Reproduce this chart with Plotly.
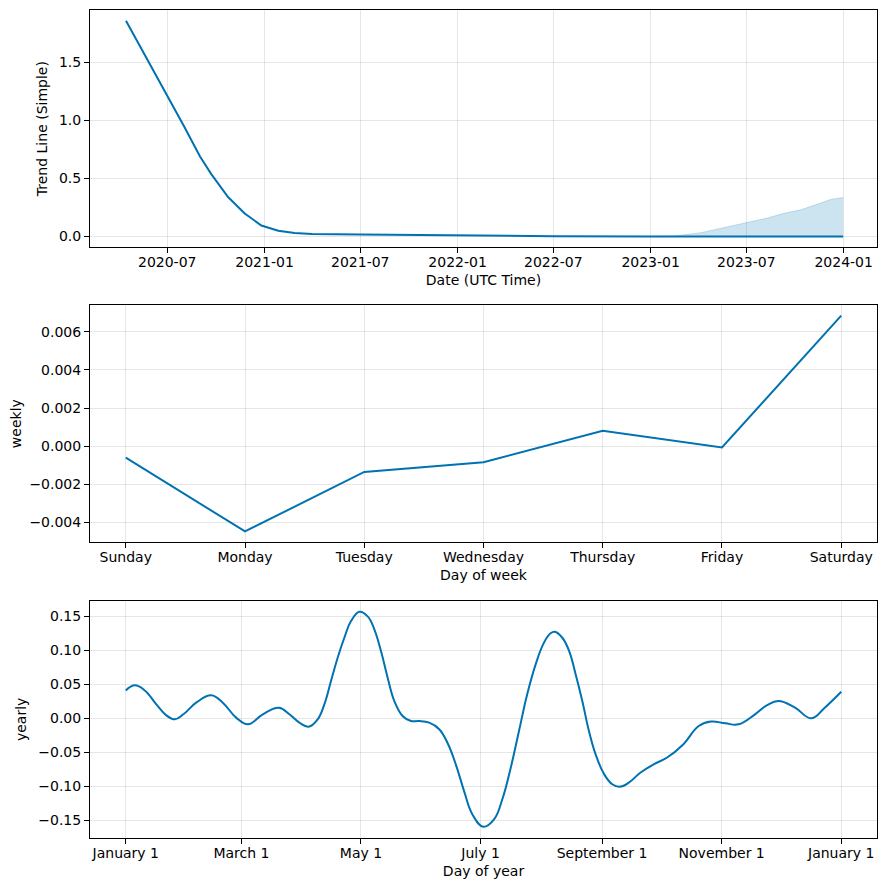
import plotly.graph_objects as go
from plotly.subplots import make_subplots

# ---- Trend panel data ----
trend_dates = ["2020-04-14", "2020-05-01", "2020-06-01", "2020-07-01", "2020-08-01",
               "2020-09-01", "2020-09-22", "2020-10-24", "2020-11-24", "2020-12-26",
               "2021-01-27", "2021-02-27", "2021-04-01", "2021-07-01", "2022-01-01",
               "2022-04-01", "2022-07-01", "2023-01-01", "2023-12-31"]
trend_values = [1.86, 1.72, 1.463, 1.215, 0.958, 0.69, 0.54, 0.34, 0.20, 0.095,
                0.05, 0.03, 0.022, 0.018, 0.01, 0.004, 0.002, 0.001, 0.001]

band_dates = ["2023-01-01", "2023-02-14", "2023-04-06", "2023-05-01", "2023-07-04",
              "2023-08-10", "2023-09-10", "2023-10-12", "2023-11-13", "2023-12-07", "2023-12-31"]
band_upper = [0.001, 0.005, 0.033, 0.057, 0.12, 0.16, 0.20, 0.23, 0.28, 0.32, 0.336]
band_lower = [0.001, 0.001, 0.001, 0.001, 0.001, 0.001, 0.001, 0.001, 0.001, 0.001, 0.001]

# ---- Weekly panel data ----
week_days = ["Sunday", "Monday", "Tuesday", "Wednesday", "Thursday", "Friday", "Saturday"]
weekly_values = [-0.0006, -0.00447, -0.00135, -0.00084, 0.000805, -0.00007, 0.00684]

# ---- Yearly panel data (day of year, value) ----
year_days = [0, 4.6, 9.7, 15.6, 20.7, 25, 29.4, 35.9, 43.6, 49.5, 56.3, 62.3, 69.9,
             78.1, 83.5, 88.6, 93.3, 97.9, 101.3, 104.7, 108.1, 111.5, 114.9, 119.2,
             123.4, 126.8, 130.2, 133.6, 137, 141.2, 145.5, 149.7, 154.8, 159.9, 164.1,
             168.4, 172.6, 176.8, 182.4, 187.9, 192.1, 196.4, 200.6, 204.8, 209.1, 213.3,
             216.7, 218.9, 222.7, 226.2, 229.5, 232.9, 236.3, 239.7, 244, 248.2, 252,
             256.6, 262.5, 269.3, 276, 284.5, 292.3, 298.5, 305.9, 312.6, 321, 327, 333,
             341.4, 349.8, 356.6, 365]
yearly_values = [0.041, 0.0485, 0.041, 0.0206, 0.0044, -0.0015, 0.0059, 0.023, 0.034,
                 0.023, 0.001, -0.0088, 0.0059, 0.0156, 0.006, -0.0064, -0.0123, -0.0015,
                 0.0206, 0.0549, 0.0891, 0.1185, 0.143, 0.1568, 0.150, 0.131, 0.099,
                 0.0597, 0.0254, 0.0034, -0.004, -0.004, -0.0064, -0.016, -0.036, -0.068,
                 -0.107, -0.141, -0.1594, -0.1485, -0.119, -0.0726, -0.0187, 0.0353,
                 0.0794, 0.111, 0.125, 0.1274, 0.1185, 0.099, 0.0647, 0.0254, -0.0187,
                 -0.053, -0.082, -0.097, -0.1006, -0.0947, -0.080, -0.0676, -0.058, -0.038,
                 -0.0113, -0.0048, -0.0074, -0.0088, 0.0059, 0.019, 0.0254, 0.0156, 0.0,
                 0.0156, 0.039]
year_tick_days = [0, 59, 120, 181, 243, 304, 365]
year_tick_labels = ["January 1", "March 1", "May 1", "July 1", "September 1",
                    "November 1", "January 1"]

LINE = "#0072B2"
FILL = "rgba(0,114,178,0.2)"
GRID = "rgba(128,128,128,0.2)"
FONT = "DejaVu Sans"
FS = 14

fig = make_subplots(rows=3, cols=1)

# Trend
fig.add_trace(go.Scatter(x=band_dates, y=band_upper, mode="lines",
                         line=dict(color=FILL, width=1), showlegend=False), row=1, col=1)
fig.add_trace(go.Scatter(x=band_dates, y=band_lower, mode="lines", fill="tonexty",
                         fillcolor=FILL, line=dict(color=FILL, width=0), showlegend=False),
              row=1, col=1)
fig.add_trace(go.Scatter(x=trend_dates, y=trend_values, mode="lines",
                         line=dict(color=LINE, width=2), showlegend=False), row=1, col=1)

# Weekly
fig.add_trace(go.Scatter(x=list(range(len(week_days))), y=weekly_values, mode="lines",
                         line=dict(color=LINE, width=2), showlegend=False), row=2, col=1)

# Yearly
fig.add_trace(go.Scatter(x=year_days, y=yearly_values, mode="lines",
                         line=dict(color=LINE, width=2, shape="spline", smoothing=1.2),
                         showlegend=False), row=3, col=1)

axis_common = dict(showline=True, linecolor="black", linewidth=1, mirror=True,
                   ticks="outside", ticklen=5, tickcolor="black", tickwidth=1,
                   showgrid=True, gridcolor=GRID, gridwidth=1, zeroline=False,
                   tickfont=dict(family=FONT, size=FS, color="black"),
                   title_font=dict(family=FONT, size=FS, color="black"))

fig.update_xaxes(**axis_common, ticklabelstandoff=-3)
fig.update_yaxes(**axis_common)

fig.update_layout(
    width=870, height=874,
    margin=dict(l=82, r=1, t=2, b=44),
    paper_bgcolor="white", plot_bgcolor="white",
    font=dict(family=FONT, size=FS, color="black"),
    xaxis=dict(domain=[0, 1], type="date", range=["2020-02-06", "2024-03-04"],
               tickformat="%Y-%m", dtick="M6", tick0="2020-01-01",
               title=dict(text="Date (UTC Time)", standoff=6)),
    yaxis=dict(domain=[0.7134, 1.0], range=[-0.093, 1.953], tickvals=[0, 0.5, 1.0, 1.5],
               tickformat=".1f", title=dict(text="Trend Line (Simple)", standoff=8)),
    xaxis2=dict(domain=[0, 1], range=[-0.3, 6.3], tickvals=list(range(len(week_days))),
                ticktext=week_days, title=dict(text="Day of week", standoff=6)),
    yaxis2=dict(domain=[0.3571, 0.6437], range=[-0.00504, 0.0074], dtick=0.002, tick0=0,
                tickformat=".3f", title=dict(text="weekly", standoff=8)),
    xaxis3=dict(domain=[0, 1], range=[-18.25, 383.25], tickvals=year_tick_days,
                ticktext=year_tick_labels, title=dict(text="Day of year", standoff=6)),
    yaxis3=dict(domain=[0, 0.2866], range=[-0.176, 0.173], dtick=0.05, tick0=0,
                tickformat=".2f", title=dict(text="yearly", standoff=8)),
)

fig.write_html("out.html")
